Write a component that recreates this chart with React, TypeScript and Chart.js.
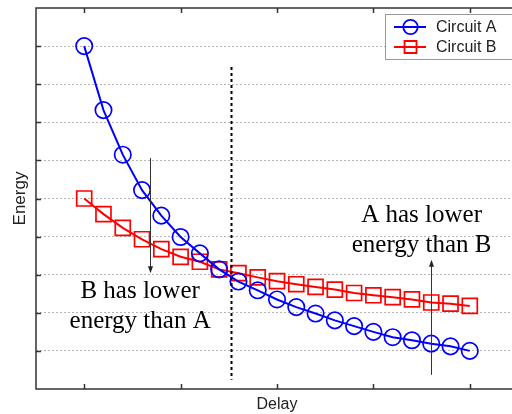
import React, { useEffect, useRef } from "react";
import { Chart, registerables } from "chart.js";

Chart.register(...registerables);

// ---- data ----
const DELAY = [0, 1, 2, 3, 4, 5, 6, 7, 8, 9, 10, 11, 12, 13, 14, 15, 16, 17, 18, 19, 20];
const ENERGY_A = [9.0, 7.32, 6.15, 5.22, 4.55, 3.99, 3.56, 3.14, 2.82, 2.59, 2.35, 2.15, 1.98, 1.8, 1.65, 1.5, 1.36, 1.28, 1.19, 1.12, 1.0];
const ENERGY_B = [5.0, 4.59, 4.23, 3.93, 3.67, 3.47, 3.34, 3.14, 3.04, 2.93, 2.83, 2.75, 2.68, 2.61, 2.52, 2.46, 2.41, 2.35, 2.27, 2.24, 2.18];
const SERIES_NAMES = ["Circuit A", "Circuit B"];
const X_TICKS = [0, 5, 10, 15, 20];
const Y_TICKS = [1, 2, 3, 4, 5, 6, 7, 8, 9];
const X_TITLE = "Delay";
const Y_TITLE = "Energy";

// annotations (data coordinates)
const CROSSOVER_X = 7.6;
const CROSSOVER_Y_RANGE = [0.24, 8.45];
const NOTE_B_LINES = ["B has lower", "energy than A"];
const NOTE_B_POS = { x: 2.9, y: [2.39, 1.6] };
const ARROW_B = { x: 3.4, from: 6.06, to: 3.04 };
const NOTE_A_LINES = ["A has lower", "energy than B"];
const NOTE_A_POS = { x: 17.5, y: [4.38, 3.6] };
const ARROW_A = { x: 18, from: 0.37, to: 3.39 };

const SANS = "'Liberation Sans', Arial, Helvetica, sans-serif";
const SERIF = "'Liberation Serif', 'Times New Roman', serif";

function drawArrow(ctx: CanvasRenderingContext2D, x: number, y1: number, y2: number) {
  const dir = y2 > y1 ? 1 : -1;
  ctx.beginPath();
  ctx.moveTo(x, y1);
  ctx.lineTo(x, y2 - dir * 5);
  ctx.stroke();
  ctx.beginPath();
  ctx.moveTo(x, y2);
  ctx.lineTo(x - 2.5, y2 - dir * 7);
  ctx.lineTo(x + 2.5, y2 - dir * 7);
  ctx.closePath();
  ctx.fill();
}

const decorPlugin = {
  id: "decor",
  afterDatasetsDraw(chart: any) {
    const ctx: CanvasRenderingContext2D = chart.ctx;
    const xs = chart.scales.x;
    const ys = chart.scales.y;
    ctx.save();
    // crossover dashed line
    const cx = Math.round(xs.getPixelForValue(CROSSOVER_X)) + 0.5;
    ctx.strokeStyle = "#000";
    ctx.lineWidth = 2;
    ctx.setLineDash([3, 3]);
    ctx.beginPath();
    ctx.moveTo(cx, ys.getPixelForValue(CROSSOVER_Y_RANGE[1]));
    ctx.lineTo(cx, ys.getPixelForValue(CROSSOVER_Y_RANGE[0]));
    ctx.stroke();
    ctx.setLineDash([]);

    // arrows
    ctx.strokeStyle = "#333";
    ctx.fillStyle = "#222";
    ctx.lineWidth = 1;
    for (const a of [ARROW_B, ARROW_A]) {
      const ax = Math.round(xs.getPixelForValue(a.x)) + 0.5;
      drawArrow(ctx, ax, ys.getPixelForValue(a.from), ys.getPixelForValue(a.to));
    }

    // notes
    ctx.fillStyle = "#000";
    ctx.font = `25px ${SERIF}`;
    ctx.textAlign = "center";
    ctx.textBaseline = "alphabetic";
    const notes: [string[], { x: number; y: number[] }][] = [
      [NOTE_B_LINES, NOTE_B_POS],
      [NOTE_A_LINES, NOTE_A_POS],
    ];
    for (const [lines, pos] of notes) {
      lines.forEach((t, i) => {
        ctx.fillText(t, xs.getPixelForValue(pos.x), ys.getPixelForValue(pos.y[i]));
      });
    }
    ctx.restore();
  },
  afterDraw(chart: any) {
    const ctx: CanvasRenderingContext2D = chart.ctx;
    const { left, right, top, bottom } = chart.chartArea;
    const xs = chart.scales.x;
    const ys = chart.scales.y;
    ctx.save();
    // frame
    ctx.strokeStyle = "#333";
    ctx.lineWidth = 1.5;
    ctx.strokeRect(left, top, right - left, bottom - top);
    // inward ticks
    ctx.lineWidth = 1.5;
    ctx.beginPath();
    for (const v of X_TICKS) {
      const px = Math.round(xs.getPixelForValue(v)) + 0.5;
      ctx.moveTo(px, top);
      ctx.lineTo(px, top + 5);
      ctx.moveTo(px, bottom);
      ctx.lineTo(px, bottom - 5);
    }
    for (const v of Y_TICKS) {
      const py = Math.round(ys.getPixelForValue(v)) + 0.5;
      ctx.moveTo(left, py);
      ctx.lineTo(left + 5, py);
      ctx.moveTo(right, py);
      ctx.lineTo(right - 5, py);
    }
    ctx.stroke();

    // legend
    const lx = 385, ly = 14, lw = 135, lh = 45;
    ctx.fillStyle = "#fff";
    ctx.fillRect(lx, ly, lw, lh);
    ctx.strokeStyle = "#999";
    ctx.lineWidth = 1;
    ctx.strokeRect(lx + 0.5, ly + 0.5, lw, lh);
    chart.data.datasets.forEach((ds: any, i: number) => {
      const y = ly + 13 + i * 20;
      ctx.strokeStyle = ds.borderColor;
      ctx.lineWidth = 2;
      ctx.beginPath();
      ctx.moveTo(lx + 9, y);
      ctx.lineTo(lx + 41, y);
      ctx.stroke();
      ctx.lineWidth = 1.8;
      const mx = lx + 25.5;
      ctx.beginPath();
      if (ds.pointStyle === "rect") {
        ctx.rect(mx - 6, y - 6, 12, 12);
      } else {
        ctx.arc(mx, y, 7.2, 0, Math.PI * 2);
      }
      ctx.stroke();
      ctx.fillStyle = "#222";
      ctx.font = `16px ${SANS}`;
      ctx.textAlign = "left";
      ctx.textBaseline = "middle";
      ctx.fillText(ds.label, lx + 51, y + 1);
    });
    ctx.restore();
  },
};

export default function App() {
  const ref = useRef<HTMLCanvasElement | null>(null);
  useEffect(() => {
    if (!ref.current) return;
    const chart = new Chart(ref.current, {
      type: "line",
      data: {
        datasets: [
          {
            label: SERIES_NAMES[0],
            data: DELAY.map((d, i) => ({ x: d, y: ENERGY_A[i] })),
            borderColor: "#0000ff",
            backgroundColor: "rgba(0,0,0,0)",
            borderWidth: 2,
            pointStyle: "circle",
            pointRadius: 8.2,
            pointBorderWidth: 1.7,
            pointBorderColor: "#0000ff",
            pointBackgroundColor: "rgba(0,0,0,0)",
            tension: 0,
          },
          {
            label: SERIES_NAMES[1],
            data: DELAY.map((d, i) => ({ x: d, y: ENERGY_B[i] })),
            borderColor: "#ff0000",
            backgroundColor: "rgba(0,0,0,0)",
            borderWidth: 2,
            pointStyle: "rect",
            pointRadius: 10.6,
            pointBorderWidth: 1.7,
            pointBorderColor: "#ff0000",
            pointBackgroundColor: "rgba(0,0,0,0)",
            tension: 0,
          },
        ],
      },
      options: {
        responsive: false,
        animation: false,
        devicePixelRatio: 1,
        layout: { autoPadding: false, padding: { left: 6, top: 8, right: 12, bottom: 0 } },
        plugins: { legend: { display: false }, tooltip: { enabled: false } },
        scales: {
          x: {
            type: "linear",
            min: -2.5,
            max: 22.5,
            ticks: { display: false, stepSize: 5 },
            grid: { display: false },
            border: { display: false },
            title: {
              display: true,
              text: X_TITLE,
              color: "#222",
              font: { family: SANS, size: 16 },
              padding: { top: 0, bottom: 0 },
            },
            afterFit: (s: any) => {
              s.height = 25;
            },
          },
          y: {
            type: "linear",
            min: 0,
            max: 10,
            ticks: { display: false, stepSize: 1 },
            grid: {
              drawTicks: false,
              lineWidth: 1,
              color: (c: any) =>
                c.tick && (c.tick.value === 0 || c.tick.value === 10) ? "rgba(0,0,0,0)" : "#b4b4b4",
              borderDash: [2, 2],
            } as any,
            border: { display: false, dash: [2, 2] },
            title: {
              display: true,
              text: Y_TITLE,
              color: "#222",
              font: { family: SANS, size: 17 },
              padding: { top: 4, bottom: 0 },
            },
            afterFit: (s: any) => {
              s.width = 30;
            },
          },
        },
      } as any,
      plugins: [decorPlugin],
    });
    return () => chart.destroy();
  }, []);

  return (
    <div
      style={{
        position: "fixed",
        left: 0,
        top: 0,
        width: 512,
        height: 414,
        overflow: "hidden",
        background: "#fff",
      }}
    >
      <canvas ref={ref} width={530} height={414} style={{ width: 530, height: 414, display: "block" }} />
    </div>
  );
}
